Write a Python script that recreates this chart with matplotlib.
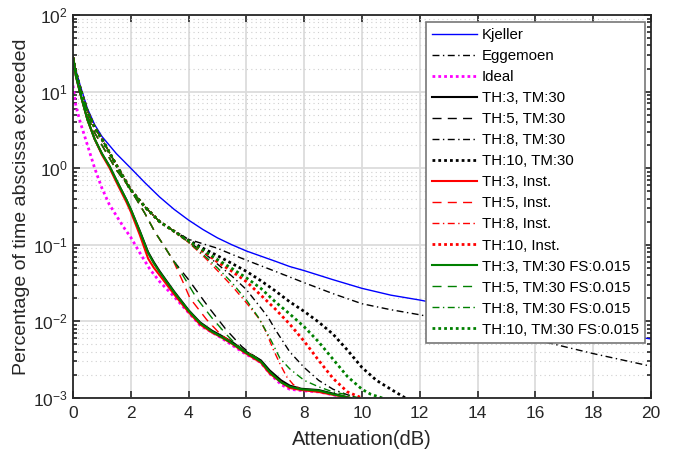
import matplotlib
matplotlib.use("Agg")
import matplotlib.pyplot as plt
import numpy as np

# ---- data ----
# Kjeller / Eggemoen measurements
kjeller_x = [0, 0.1, 0.25, 0.5, 0.75, 1.0, 1.5, 2.0, 2.5, 3.0, 3.5, 4.0, 4.5, 5.0, 5.5, 6.0, 7.0, 7.5,
             8.0, 9.0, 10.0, 11.0, 12.0, 14.0, 16.0, 18.0, 20.0]
kjeller_y = [28, 19, 12, 6.0, 3.7, 2.6, 1.55, 1.0, 0.64, 0.42, 0.29, 0.21, 0.158, 0.123, 0.1, 0.083, 0.061, 0.052,
             0.046, 0.035, 0.027, 0.022, 0.019, 0.0135, 0.0100, 0.0076, 0.0059]

# shared start of the upper group (Eggemoen, TH:8, TH:10)
upper_x = [0, 0.1, 0.25, 0.5, 0.75, 1.0, 1.5, 2.0, 2.5, 3.0, 3.5]
upper_y = [28, 18, 11, 5.5, 3.4, 2.4, 1.1, 0.52, 0.31, 0.20, 0.15]

egg_x = upper_x + [4.0, 4.5, 5.0, 5.5, 6.0, 7.0, 8.0, 9.0, 10.0, 11.0, 12.0, 14.0, 16.5, 18.0, 20.0]
egg_y = upper_y + [0.118, 0.103, 0.09, 0.075, 0.063, 0.045, 0.032, 0.023, 0.017, 0.0142, 0.0122, 0.0085,
                   0.0052, 0.0038, 0.0026]

ideal_x = [0, 0.1, 0.25, 0.5, 0.75, 1.0, 1.25, 1.5, 1.75, 2.0, 2.3, 2.66, 3.0, 3.5, 4.0, 4.4,
           5.1, 5.9, 6.5, 6.8, 7.2, 7.5, 8.0, 8.5, 9.0, 9.5]
ideal_y = [12, 6.5, 4.0, 2.0, 1.0, 0.55, 0.34, 0.24, 0.17, 0.125, 0.08, 0.048, 0.033, 0.021, 0.013, 0.0089,
           0.0062, 0.0039, 0.0029, 0.0021, 0.0015, 0.0013, 0.00124, 0.0012, 0.0011, 0.001]

# TH:3 (solid)
th3_x = [0, 0.1, 0.25, 0.5, 0.75, 1.0, 1.27, 1.5, 1.85, 2.0, 2.31, 2.6, 2.8, 3.0, 3.5, 4.0, 4.4, 4.8,
         5.1, 5.5, 5.9, 6.2, 6.5, 6.8, 7.2, 7.5, 7.9, 8.5, 9.0, 9.6]
th3_tm30_y = [28, 16, 9.5, 4.3, 2.4, 1.55, 1.05, 0.7, 0.385, 0.29, 0.152, 0.08, 0.059, 0.045, 0.0245, 0.014,
              0.0097, 0.0076, 0.0066, 0.0054, 0.0042, 0.0036, 0.0031, 0.0023, 0.0017, 0.00145, 0.00132,
              0.00127, 0.00114, 0.001]
th3_inst_y = [28, 16, 9.5, 4.3, 2.4, 1.5, 1.0, 0.66, 0.36, 0.27, 0.135, 0.066, 0.05, 0.04, 0.0225, 0.0132,
              0.0091, 0.0072, 0.0063, 0.0051, 0.004, 0.0034, 0.0029, 0.0021, 0.0016, 0.00135, 0.00127,
              0.0012, 0.0011, 0.001]
th3_fs_y = [28, 16, 9.5, 4.3, 2.4, 1.55, 1.05, 0.7, 0.385, 0.29, 0.15, 0.078, 0.057, 0.044, 0.024, 0.0138,
            0.0095, 0.0074, 0.0064, 0.0052, 0.0041, 0.0035, 0.0030, 0.0022, 0.0016, 0.0014, 0.0013,
            0.00125, 0.00112, 0.001]

# TH:5 (dashed)
th5_start_x = [0, 0.1, 0.25, 0.5, 0.75, 1.0, 1.5, 1.85, 2.0, 2.48, 2.83, 3.17, 3.46]
th5_start_y = [28, 17, 10, 4.8, 2.9, 2.0, 0.95, 0.63, 0.52, 0.26, 0.148, 0.094, 0.063]
th5_inst_x = th5_start_x + [3.8, 4.05, 4.62, 5.1, 5.5, 5.9, 6.5]
th5_inst_y = th5_start_y + [0.033, 0.02, 0.0106, 0.0068, 0.0053, 0.0042, 0.0031]
th5_fs_x = th5_start_x + [3.8, 4.28, 4.8, 5.3, 5.6, 5.9, 6.5]
th5_fs_y = th5_start_y + [0.04, 0.02, 0.0112, 0.0068, 0.0052, 0.0042, 0.0031]
th5_tm30_x = th5_start_x + [4.0, 4.51, 4.74, 5.3, 5.84, 6.1, 6.5]
th5_tm30_y = th5_start_y + [0.035, 0.019, 0.0145, 0.0078, 0.0047, 0.0039, 0.0031]

# TH:8 (dash-dot)
th8_tm30_x = upper_x + [4.0, 4.5, 5.0, 5.5, 6.0, 6.5, 6.76, 7.0, 7.5, 8.0, 8.5, 9.0, 9.5, 9.9]
th8_tm30_y = upper_y + [0.11, 0.08, 0.056, 0.039, 0.026, 0.015, 0.0112, 0.0078, 0.004, 0.0025, 0.0017,
                        0.0013, 0.0011, 0.001]
th8_inst_x = upper_x + [4.0, 4.5, 5.0, 5.5, 6.0, 6.47, 6.7, 6.93, 7.16, 7.39, 7.62, 7.9]
th8_inst_y = upper_y + [0.107, 0.072, 0.046, 0.029, 0.0175, 0.0105, 0.007, 0.0043, 0.0028, 0.0019, 0.0015, 0.0013]
th8_fs_x = upper_x + [4.0, 4.5, 5.0, 5.5, 6.0, 6.4, 6.8, 7.16, 7.5, 8.0, 8.5, 9.0, 9.5, 9.9]
th8_fs_y = upper_y + [0.108, 0.075, 0.05, 0.032, 0.019, 0.0115, 0.0062, 0.0033, 0.0024, 0.0017, 0.0014,
                      0.0012, 0.0011, 0.001]

# TH:10 (dotted)
th10_tm30_x = upper_x + [4.0, 4.5, 5.0, 5.5, 6.0, 6.5, 7.0, 7.5, 8.0, 8.5, 9.0, 9.5, 10.0, 10.5, 11.0, 11.5]
th10_tm30_y = upper_y + [0.115, 0.09, 0.072, 0.057, 0.045, 0.034, 0.025, 0.018, 0.0135, 0.0098, 0.0068,
                         0.0042, 0.0025, 0.0017, 0.0013, 0.001]
th10_inst_x = upper_x + [4.0, 4.5, 5.0, 5.5, 6.0, 6.5, 7.0, 7.5, 8.0, 8.5, 9.0, 9.5, 10.0]
th10_inst_y = upper_y + [0.11, 0.082, 0.06, 0.045, 0.033, 0.022, 0.0145, 0.0092, 0.0055, 0.0031, 0.0018,
                         0.0012, 0.001]
th10_fs_x = upper_x + [4.0, 4.5, 5.0, 5.5, 6.0, 6.5, 7.0, 7.5, 8.0, 8.5, 9.0, 9.5, 10.0, 10.3, 10.7]
th10_fs_y = upper_y + [0.112, 0.085, 0.064, 0.049, 0.037, 0.027, 0.018, 0.0125, 0.0085, 0.0054, 0.0032,
                       0.0019, 0.0013, 0.00112, 0.001]

# ---- styles ----
plt.rcParams["font.family"] = ["Liberation Sans", "DejaVu Sans"]
plt.rcParams["mathtext.default"] = "regular"

dash = (0, (6.5, 4.5))
dashdot = (0, (5, 2.5, 1, 2.5))
dot = (0, (1, 1.1))
dark_green = "#008000"

series = [
    (kjeller_x, kjeller_y, "b", "-", 1.0, "Kjeller"),
    (egg_x, egg_y, "k", dashdot, 1.0, "Eggemoen"),
    (ideal_x, ideal_y, "#ff00ff", dot, 2.0, "Ideal"),
    (th3_x, th3_tm30_y, "k", "-", 1.5, "TH:3, TM:30"),
    (th5_tm30_x, th5_tm30_y, "k", dash, 1.0, "TH:5, TM:30"),
    (th8_tm30_x, th8_tm30_y, "k", dashdot, 1.0, "TH:8, TM:30"),
    (th10_tm30_x, th10_tm30_y, "k", dot, 2.0, "TH:10, TM:30"),
    (th3_x, th3_inst_y, "r", "-", 1.5, "TH:3, Inst."),
    (th5_inst_x, th5_inst_y, "r", dash, 1.0, "TH:5, Inst."),
    (th8_inst_x, th8_inst_y, "r", dashdot, 1.0, "TH:8, Inst."),
    (th10_inst_x, th10_inst_y, "r", dot, 2.0, "TH:10, Inst."),
    (th3_x, th3_fs_y, dark_green, "-", 1.5, "TH:3, TM:30 FS:0.015"),
    (th5_fs_x, th5_fs_y, dark_green, dash, 1.0, "TH:5, TM:30 FS:0.015"),
    (th8_fs_x, th8_fs_y, dark_green, dashdot, 1.0, "TH:8, TM:30 FS:0.015"),
    (th10_fs_x, th10_fs_y, dark_green, dot, 2.0, "TH:10, TM:30 FS:0.015"),
]

fig = plt.figure(figsize=(6.85, 4.51), dpi=100)
ax = fig.add_axes([73 / 685, 1 - 398 / 451, (651 - 73) / 685, (398 - 15) / 451])

for x, y, c, ls, lw, lab in series:
    ax.plot(x, y, color=c, linestyle=ls, linewidth=lw, label=lab)

ax.set_yscale("log")
ax.set_xlim(0, 20)
ax.set_ylim(1e-3, 1e2)
ax.set_xticks(np.arange(0, 21, 2))

ax.grid(True, which="major", color="#dcdcdc", linewidth=1.3, linestyle="-")
ax.grid(True, which="minor", axis="y", color="#cfcfcf", linewidth=0.8, linestyle=(0, (1, 3)))
ax.set_axisbelow(True)

ax.tick_params(which="both", direction="in", top=True, right=True, labelsize=12.5,
               colors="#262626", width=1.2)
ax.tick_params(which="major", length=5, pad=4)
ax.tick_params(which="minor", length=3)
ax.tick_params(axis="x", pad=6)
for s in ax.spines.values():
    s.set_color("#262626")
    s.set_linewidth(1.3)

ax.set_xlabel("Attenuation(dB)", fontsize=14.5, color="#262626", labelpad=6)
ax.set_ylabel("Percentage of time abscissa exceeded", fontsize=14, color="#262626", labelpad=2)

leg = ax.legend(loc="upper right", bbox_to_anchor=(645 / 685, 1 - 22 / 451),
                bbox_transform=fig.transFigure, borderaxespad=0, fontsize=10.8,
                handlelength=3.0, handletextpad=0.35, labelspacing=0.47,
                fancybox=False, framealpha=1, borderpad=0.4)
leg.get_frame().set_edgecolor("#777777")
leg.get_frame().set_linewidth(1.2)

fig.savefig("out.png", dpi=100)
